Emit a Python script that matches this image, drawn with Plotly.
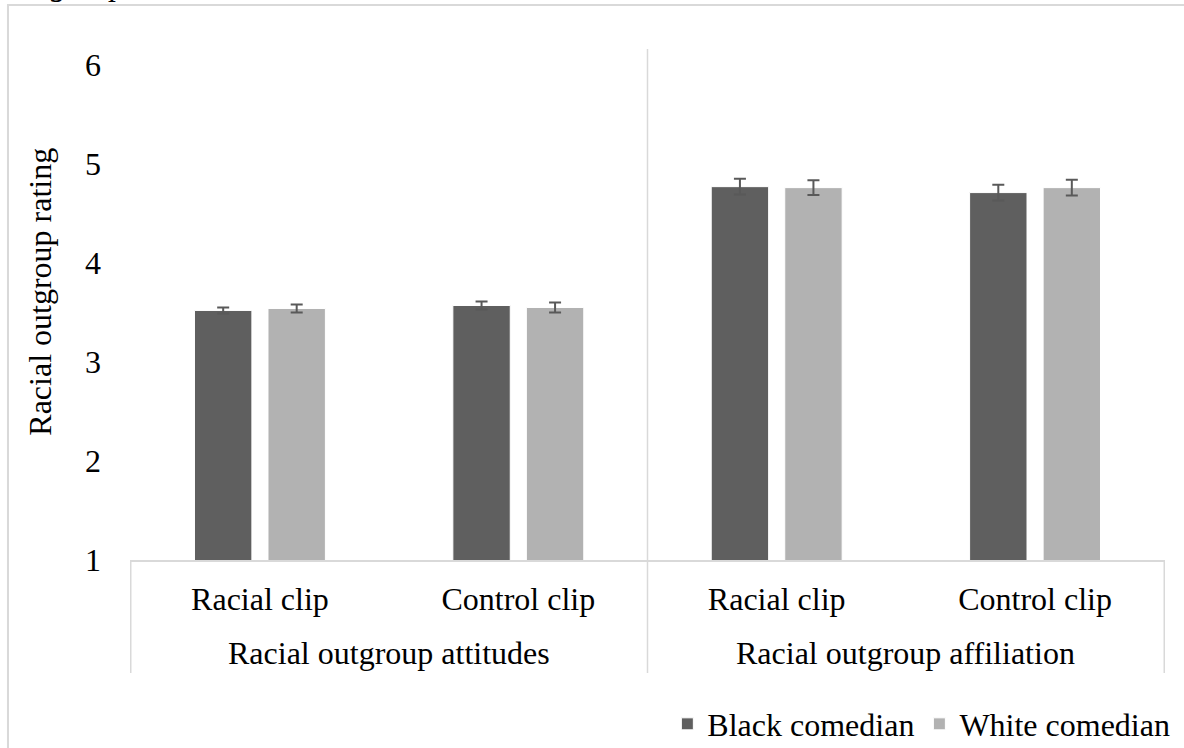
import plotly.graph_objects as go

measures = ["Racial outgroup attitudes", "Racial outgroup affiliation"]
clips = ["Racial clip", "Control clip", "Racial clip", "Control clip"]
bar_keys = ["att_racial", "att_control", "aff_racial", "aff_control"]

black_vals = [3.52, 3.57, 4.77, 4.71]
black_err = [0.03, 0.04, 0.08, 0.08]
white_vals = [3.54, 3.55, 4.76, 4.76]
white_err = [0.04, 0.05, 0.075, 0.08]

y_ticks = [1, 2, 3, 4, 5, 6]

FONT = "Liberation Serif"
FS = 32
GRID = "#d9d9d9"

fig = go.Figure()
fig.add_trace(go.Bar(
    x=bar_keys, y=black_vals, name="Black comedian",
    marker=dict(color="#5f5f5f", line=dict(color="#ffffff", width=1)),
    error_y=dict(type="data", array=black_err, color="#595959", thickness=2, width=6),
))
fig.add_trace(go.Bar(
    x=bar_keys, y=white_vals, name="White comedian",
    marker=dict(color="#b2b2b2", line=dict(color="#ffffff", width=1)),
    error_y=dict(type="data", array=white_err, color="#595959", thickness=2, width=6),
))

div_bottom = -(673 - 560) / 511
shapes = [
    dict(type="line", xref="x", yref="paper", x0=1.5, x1=1.5, y0=div_bottom, y1=1,
         line=dict(color=GRID, width=1.5), layer="below"),
    dict(type="line", xref="x", yref="paper", x0=-0.5, x1=-0.5, y0=div_bottom, y1=0,
         line=dict(color=GRID, width=1.5), layer="below"),
    dict(type="line", xref="x", yref="paper", x0=3.5, x1=3.5, y0=div_bottom, y1=0,
         line=dict(color=GRID, width=1.5), layer="below"),
    dict(type="rect", xref="paper", yref="paper", x0=-0.1179, x1=1.2, y0=-0.6, y1=1.086,
         line=dict(color=GRID, width=2), layer="below"),
]

annotations = [
    dict(text="Racial outgroup rating", textangle=-90, xref="paper", yref="paper",
         x=-0.087, y=0.525, xanchor="center", yanchor="middle", showarrow=False,
         font=dict(family=FONT, size=FS)),
    dict(text="<i>Outgroup</i>", xref="paper", yref="paper", x=-0.125, y=1.0885,
         xanchor="left", yanchor="bottom", showarrow=False,
         font=dict(family=FONT, size=FS)),
]
for i, m in enumerate(measures):
    annotations.append(dict(text=m, xref="x", yref="paper", x=2 * i + 0.5, y=-0.182,
                            xanchor="center", yanchor="middle", showarrow=False,
                            font=dict(family=FONT, size=FS)))

fig.update_layout(
    width=1184, height=748,
    margin=dict(l=130, r=19, t=49, b=188, autoexpand=False),
    paper_bgcolor="white", plot_bgcolor="white",
    font=dict(family=FONT, size=FS, color="black"),
    barmode="group", bargap=0.431, bargroupgap=0.219,
    showlegend=True,
    legend=dict(orientation="h", x=1.01, xanchor="right", y=-0.321, yanchor="middle",
                font=dict(family=FONT, size=FS), bgcolor="rgba(0,0,0,0)"),
    xaxis=dict(type="category", tickvals=bar_keys, ticktext=clips, showline=True,
               linecolor=GRID, linewidth=1.5, showgrid=False, ticks="",
               ticklabelstandoff=10, automargin=False,
               tickfont=dict(family=FONT, size=FS)),
    yaxis=dict(range=[1, 6.16], tickvals=y_ticks, showgrid=False, showline=False,
               zeroline=False, ticks="", ticklabelstandoff=28, automargin=False,
               tickfont=dict(family=FONT, size=FS)),
    shapes=shapes,
    annotations=annotations,
)

fig.write_html("out.html", config={"displayModeBar": False},
               post_script="document.body.style.margin='0px';")
